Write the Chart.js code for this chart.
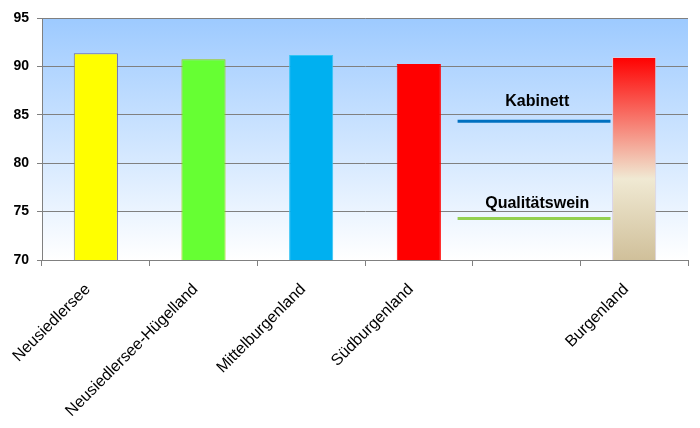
<!DOCTYPE html>
<html>
<head>
<meta charset="utf-8">
<script src="https://cdn.jsdelivr.net/npm/chart.js@4"></script>
<style>
  html, body { margin: 0; padding: 0; background: #fff; }
  #wrap { width: 700px; height: 428px; }
</style>
</head>
<body>
<div id="wrap"><canvas id="myChart" width="700" height="428"></canvas></div>
<script>
// Data
const regions = ["Neusiedlersee", "Neusiedlersee-Hügelland", "Mittelburgenland", "Südburgenland", "", "Burgenland"];
const scores = [91.35, 90.75, 91.18, 90.25, null, 90.97];
const yTicks = [70, 75, 80, 85, 90, 95];

// reference lines (category units on a hidden linear axis)
const refNames = ["Kabinett", "Qualitätswein"];
const refValues = [84.33, 74.3];
const refFrom = 3.86;
const refTo = 5.28;

const barColors = ["#FFFF00", "#66FF33", "#00B0F0", "#FF0000", null, "burgenland"];
const barBorders = ["#6666AA", "#99CC00", "#33C4F4", "#FF0000", null, "#D8D0E4"];

const ctx = document.getElementById("myChart").getContext("2d");

// --------------------------- Plugins ---------------------------
const plotBackground = {
	id: "plotBackground",
	beforeDraw(chart) {
		const { ctx, chartArea: a } = chart;
		const g = ctx.createLinearGradient(0, a.top, 0, a.bottom);
		g.addColorStop(0, "#9DCAFF");
		g.addColorStop(1, "#FFFFFF");
		ctx.save();
		ctx.fillStyle = g;
		ctx.fillRect(a.left, a.top, a.right - a.left, a.bottom - a.top);
		ctx.restore();
	},
};

const refLabels = {
	id: "refLabels",
	afterDatasetsDraw(chart) {
		const { ctx } = chart;
		const x2 = chart.scales.x2;
		const y = chart.scales.y;
		ctx.save();
		ctx.font = "bold 16px Arial, 'Liberation Sans', sans-serif";
		ctx.fillStyle = "#000";
		ctx.textAlign = "center";
		ctx.textBaseline = "alphabetic";
		const cx = x2.getPixelForValue(4.6);
		ctx.fillText(refNames[0], cx, y.getPixelForValue(refValues[0]) - 15);
		ctx.fillText(refNames[1], cx, y.getPixelForValue(refValues[1]) - 10);
		ctx.restore();
	},
};

function barFill(c) {
	const col = barColors[c.dataIndex];
	if (col !== "burgenland") return col;
	const chart = c.chart;
	if (!chart.chartArea) return "#FF0000";
	const y = chart.scales.y;
	const top = y.getPixelForValue(scores[c.dataIndex]);
	const bottom = y.getPixelForValue(70);
	const g = chart.ctx.createLinearGradient(0, top, 0, bottom);
	g.addColorStop(0, "#FF0000");
	g.addColorStop(0.6, "#F0E9D3");
	g.addColorStop(1, "#D0C09A");
	return g;
}

// --------------------------- Chart Object ---------------------------
const wineChart = new Chart(ctx, {
	type: "bar",
	data: {
		labels: regions,
		datasets: [
			{
				label: "Punkte",
				data: scores,
				backgroundColor: barFill,
				borderColor: barBorders,
				borderWidth: 1,
				barPercentage: 0.41,
				categoryPercentage: 1,
				grouped: false,
				order: 2,
			},
			{
				type: "line",
				label: refNames[0],
				xAxisID: "x2",
				data: [{ x: refFrom, y: refValues[0] }, { x: refTo, y: refValues[0] }],
				borderColor: "#0070C0",
				borderWidth: 3,
				pointRadius: 0,
				order: 1,
			},
			{
				type: "line",
				label: refNames[1],
				xAxisID: "x2",
				data: [{ x: refFrom, y: refValues[1] }, { x: refTo, y: refValues[1] }],
				borderColor: "#92D050",
				borderWidth: 3,
				pointRadius: 0,
				order: 1,
			},
		],
	},
	options: {
		responsive: false,
		animation: false,
		layout: { padding: { top: 18, right: 12, left: 0, bottom: 0 } },
		plugins: {
			legend: { display: false },
			tooltip: { enabled: false },
		},
		scales: {
			x: {
				offset: true,
				grid: {
					offset: true,
					drawOnChartArea: false,
					color: "#808080",
					tickLength: 6,
				},
				border: { color: "#808080" },
				ticks: {
					color: "#000",
					font: { family: "Arial, 'Liberation Sans', sans-serif", size: 16 },
					minRotation: 45,
					maxRotation: 45,
					autoSkip: false,
					padding: 14,
					labelOffset: -8,
				},
				afterFit(scale) {
					scale.height = 168;
				},
			},
			x2: {
				type: "linear",
				display: false,
				offset: false,
				min: 0,
				max: 6,
			},
			y: {
				min: 70,
				max: 95,
				afterBuildTicks(scale) {
					scale.ticks = yTicks.map((v) => ({ value: v }));
				},
				grid: { color: "#808080", tickLength: 5 },
				border: { color: "#808080" },
				ticks: {
					color: "#000",
					font: { family: "Arial, 'Liberation Sans', sans-serif", size: 14, weight: "bold" },
					padding: 8,
				},
				afterFit(scale) {
					scale.width = 42;
				},
			},
		},
	},
	plugins: [plotBackground, refLabels],
});
</script>
</body>
</html>
